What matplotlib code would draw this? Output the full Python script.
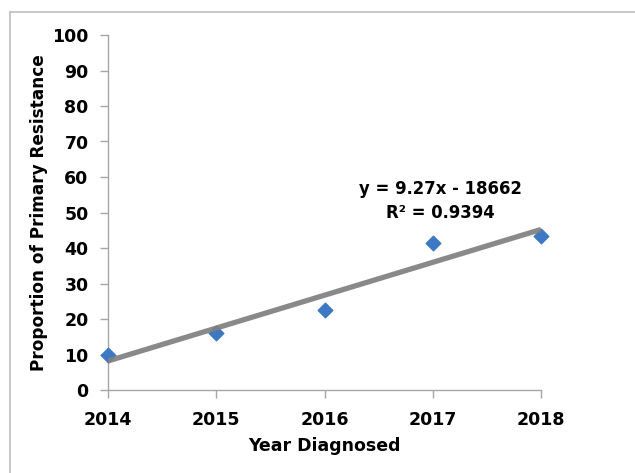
import numpy as np
import matplotlib.pyplot as plt
from matplotlib.lines import Line2D

years = [2014, 2015, 2016, 2017, 2018]
proportion = [9.9, 16.1, 22.5, 41.5, 43.5]
eq_text = "y = 9.27x - 18662"
r2_text = "R² = 0.9394"

plt.rcParams['font.family'] = ['DejaVu Sans']
plt.rcParams['font.weight'] = 'bold'

fig = plt.figure(figsize=(6.35, 4.73), dpi=100)
ax = fig.add_axes([108/635, 1 - 390/473, (541 - 108)/635, (390 - 35)/473])

# outer chart border (only left and top visible)
fig.add_artist(Line2D([10/635, 10/635], [0, 1 - 12/473], color='#BFBFBF', lw=1.2,
                      transform=fig.transFigure))
fig.add_artist(Line2D([10/635, 1], [1 - 12/473, 1 - 12/473], color='#BFBFBF', lw=1.2,
                      transform=fig.transFigure))

ax.scatter(years, proportion, marker='D', s=55, color='#3C78C3', zorder=3, clip_on=False)

slope, icpt = np.polyfit(years, proportion, 1)
xs = np.array([years[0], years[-1]])
ax.plot(xs, slope * xs + icpt, color='#7F7F7F', lw=3.8, alpha=0.92, zorder=4,
        solid_capstyle='butt')

ax.text(2017.07, 56.75, eq_text, ha='center', va='center', fontsize=11.9, fontweight='bold')
ax.text(2017.07, 49.95, r2_text, ha='center', va='center', fontsize=11.9, fontweight='bold')

ax.set_xlim(2014, 2018)
ax.set_ylim(0, 100)
ax.set_xticks(years)
ax.set_yticks(range(0, 101, 10))
for s in ['top', 'right']:
    ax.spines[s].set_visible(False)
for s in ['left', 'bottom']:
    ax.spines[s].set_color('#A6A6A6')
    ax.spines[s].set_linewidth(1.0)
ax.tick_params(colors='#A6A6A6', labelcolor='black', length=6, width=1.0, labelsize=12.5)
ax.tick_params(axis='x', pad=9)
ax.tick_params(axis='y', pad=8)
for lbl in ax.get_xticklabels() + ax.get_yticklabels():
    lbl.set_fontweight('bold')

ax.set_xlabel("Year Diagnosed", fontsize=12.5, fontweight='bold', labelpad=6)
ax.set_ylabel("Proportion of Primary Resistance", fontsize=12.2, fontweight='bold', labelpad=3)

fig.savefig('out.png', dpi=100)
